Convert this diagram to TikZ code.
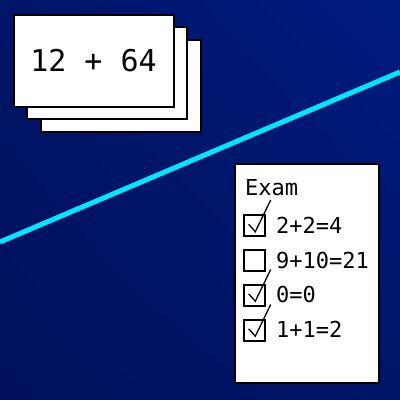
\documentclass[tikz,border=0pt]{standalone}
\usepackage{fontspec}
\usetikzlibrary{shadings}
\newfontfamily\monofont{DejaVu Sans Mono}
\definecolor{bgdark}{RGB}{0,16,90}
\definecolor{bgmid}{RGB}{0,21,104}
\definecolor{bglight}{RGB}{0,28,128}
\definecolor{cyanline}{RGB}{0,230,255}
\tikzset{
  card/.style={draw=black, line width=2pt, fill=white, minimum width=160pt, minimum height=92pt, inner sep=0pt},
  paper/.style={draw=black, line width=2pt, fill=white, minimum width=144pt, minimum height=219pt, inner sep=0pt},
  cbox/.style={draw=black, line width=2pt, minimum size=21pt, inner sep=0pt},
  tick/.style={draw=black, line width=1.3pt},
  examtext/.style={anchor=base west, inner sep=0pt, font=\monofont\fontsize{22pt}{26pt}\selectfont},
}
\begin{document}
\begin{tikzpicture}[x=1pt, y=-1pt]
\useasboundingbox (0,0) rectangle (400,400);
\shade[lower left=bgdark, upper right=bglight, upper left=bgmid, lower right=bgmid] (0,0) rectangle (400,400);
\coordinate (l1) at (0,242);
\coordinate (l2) at (400,72);
\draw[cyanline, line width=5pt] (l1) -- (l2);
% cards
\node[card] (card3) at (121,86) {};
\node[card] (card2) at (106.5,72.5) {};
\node[card, font=\monofont\fontsize{30pt}{34pt}\selectfont] (card1) at (93.5,60.5) {12 + 64};
% exam paper
\node[paper] (paper) at (307,273.5) {};
\node[examtext] (title) at (245,195) {Exam};
\node[cbox] (b1) at (254.5,225.5) {};
\node[cbox] (b2) at (254.5,260) {};
\node[cbox] (b3) at (254.5,295) {};
\node[cbox] (b4) at (254.5,330) {};
\node[examtext] (t1) at (276,233) {2+2=4};
\node[examtext] (t2) at (276,268) {9+10=21};
\node[examtext] (t3) at (276,302.5) {0=0};
\node[examtext] (t4) at (276,337.5) {1+1=2};
\foreach \b in {b1,b3,b4}{
  \draw[tick] ([shift={(-5.8,-1.2)}]\b.center) -- ([shift={(0.8,6.2)}]\b.center) -- ([shift={(16.2,-25.5)}]\b.center);
}
\end{tikzpicture}
\end{document}
